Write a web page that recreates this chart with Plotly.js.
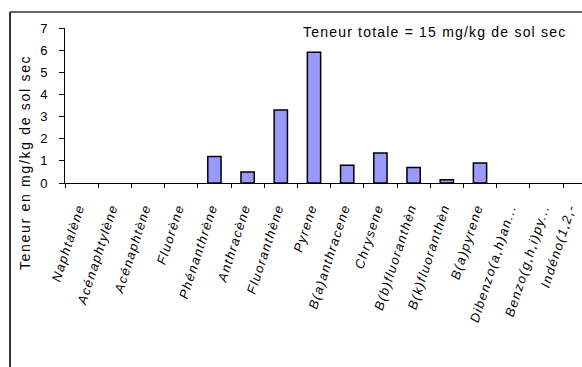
<!DOCTYPE html>
<html>
<head>
<meta charset="utf-8">
<script src="https://cdn.plot.ly/plotly-3.0.1.min.js"></script>
<style>
  html, body { margin: 0; padding: 0; background: #fff; }
  #chart { width: 582px; height: 367px; }
  #chart .xtick text { letter-spacing: 1.4px; }
  #chart g.annotation[data-index="0"] text { letter-spacing: 1.2px; }
  #chart g.annotation[data-index="1"] text { letter-spacing: 1.7px; }
</style>
</head>
<body>
<div id="chart"></div>
<script>
// Data (mg/kg de sol sec); null = no bar drawn
const categories = [
  "Naphtalène", "Acénaphtylène", "Acénaphtène", "Fluorène", "Phénanthrène",
  "Anthracène", "Fluoranthène", "Pyrene", "B(a)anthracene", "Chrysene",
  "B(b)fluoranthèn", "B(k)fluoranthèn", "B(a)pyrene", "Dibenzo(a,h)an...",
  "Benzo(g,h,i)py...", "Indéno(1,2,-"
];
const teneur = [null, null, null, null, 1.2, 0.5, 3.3, 5.9, 0.8, 1.35, 0.7, 0.15, 0.9, null, null, null];
const yTicks = [0, 1, 2, 3, 4, 5, 6, 7];
const totalLabel = "Teneur totale = 15 mg/kg de sol sec";
const yTitle = "Teneur en mg/kg de sol sec";

const W = 582, H = 367;
const mL = 65, mR = 0, mT = 28, mB = 184;
const pw = W - mL - mR, ph = H - mT - mB;
const px = x => (x - mL) / pw;      // pixel -> paper x
const py = y => (H - mB - y) / ph;  // pixel -> paper y

const FONT = "Liberation Sans, Arial, sans-serif";

const trace = {
  type: "bar",
  x: categories,
  y: teneur,
  marker: { color: "#9999FF", line: { color: "#000000", width: 1.5 } },
  hoverinfo: "x+y"
};

const layout = {
  width: W, height: H,
  margin: { l: mL, r: mR, t: mT, b: mB, pad: 0 },
  paper_bgcolor: "#ffffff",
  plot_bgcolor: "#ffffff",
  showlegend: false,
  bargap: 0.6,
  font: { family: FONT, color: "#000" },
  xaxis: {
    type: "category",
    range: [-0.5, -0.5 + pw / 33.2],
    showline: true, linecolor: "#000", linewidth: 1,
    ticks: "outside", ticklen: 4, tickcolor: "#000", tickwidth: 1,
    tickson: "boundaries",
    tickangle: -72,
    ticklabelstandoff: 11,
    ticklabelshift: -3,
    tickfont: { family: FONT, size: 13, style: "italic", color: "#000" },
    showgrid: false, zeroline: false, fixedrange: true
  },
  yaxis: {
    range: [0, 7],
    tickvals: yTicks,
    ticktext: yTicks.map(String),
    showline: true, linecolor: "#000", linewidth: 1,
    ticks: "outside", ticklen: 5, tickcolor: "#000", tickwidth: 1,
    ticklabelstandoff: 9,
    tickfont: { family: FONT, size: 13, color: "#000" },
    showgrid: false, zeroline: false, fixedrange: true
  },
  annotations: [
    {
      text: totalLabel, xref: "paper", yref: "paper",
      x: px(434), y: py(32), xanchor: "center", yanchor: "middle",
      showarrow: false, font: { family: FONT, size: 14, color: "#000" }
    },
    {
      text: yTitle, xref: "paper", yref: "paper",
      x: px(25), y: py(163), xanchor: "center", yanchor: "middle",
      textangle: -90,
      showarrow: false, font: { family: FONT, size: 14, color: "#000" }
    }
  ],
  shapes: [
    { type: "line", xref: "paper", yref: "paper",
      x0: px(10), x1: px(584), y0: py(12), y1: py(12),
      line: { color: "#333", width: 1.5 } },
    { type: "line", xref: "paper", yref: "paper",
      x0: px(10), x1: px(10), y0: py(12), y1: py(369),
      line: { color: "#333", width: 2 } }
  ]
};

Plotly.newPlot("chart", [trace], layout, { displayModeBar: false, staticPlot: true }).then(gd => {
  // Like the original, the last label is pulled inside the chart edge
  const labels = gd.querySelectorAll(".xtick text");
  if (labels.length) {
    const last = labels[labels.length - 1];
    const t = last.getAttribute("transform") || "";
    last.setAttribute("transform", "translate(-7,0) " + t);
  }
});
</script>
</body>
</html>
